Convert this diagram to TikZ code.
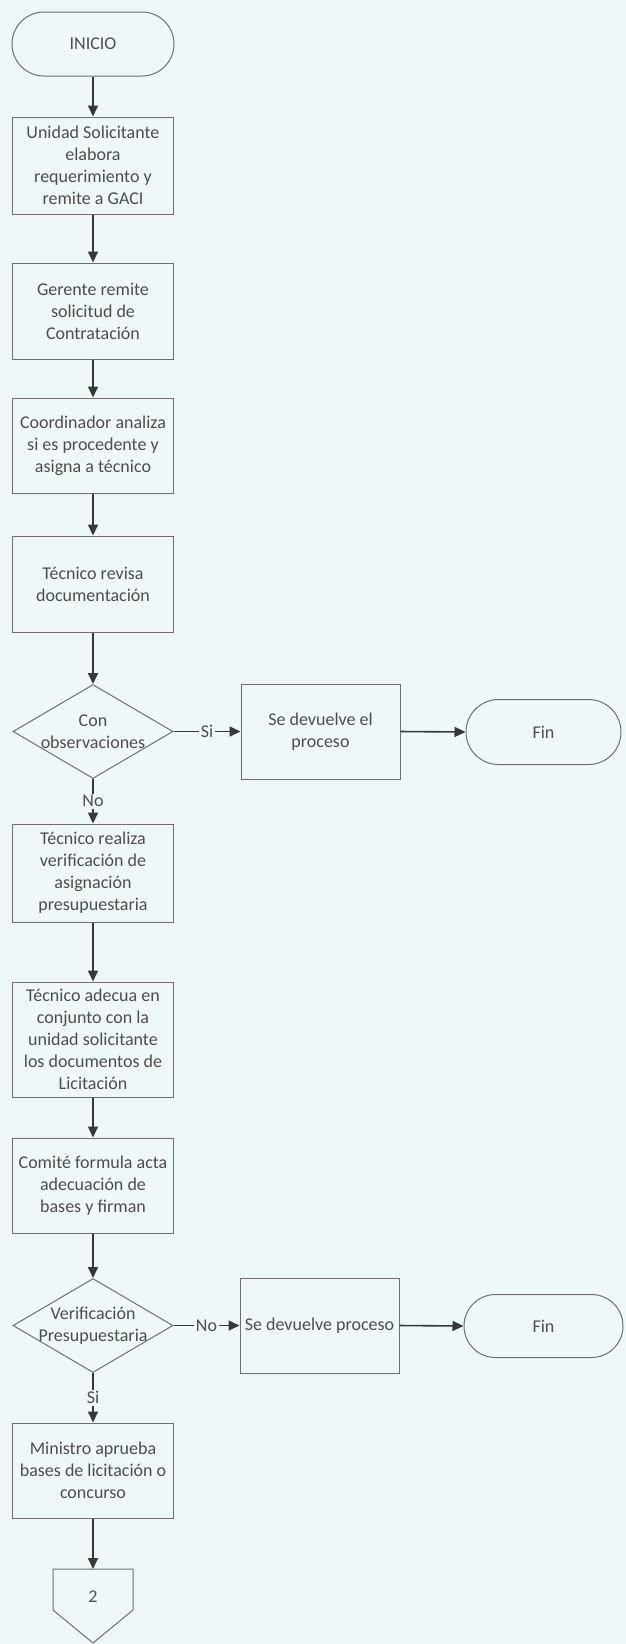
\documentclass[tikz,border=0pt]{standalone}
\usepackage{fontspec}
\setmainfont{Carlito}
\usetikzlibrary{arrows.meta,shapes.geometric,shapes.misc}
\definecolor{bgc}{HTML}{EEF8F8}
\definecolor{linec}{HTML}{6E6E6E}
\definecolor{arrc}{HTML}{383838}
\definecolor{txtc}{HTML}{4D4D4D}
\begin{document}
\begin{tikzpicture}[x=1pt,y=-1pt,
  every node/.style={font=\fontsize{18}{22}\selectfont, text=txtc},
  procbox/.style={draw=linec, line width=1pt, align=center, minimum width=161pt, inner sep=0pt},
  term/.style={draw=linec, line width=1pt, rounded rectangle, inner sep=0pt, align=center},
  decis/.style={draw=linec, line width=1pt, diamond, inner sep=0pt, minimum width=160pt, minimum height=94pt},
  flow/.style={draw=arrc, line width=1.6pt, -{Triangle[width=10pt,length=11pt]}},
  lbl/.style={fill=bgc, inner sep=1.5pt}]
\fill[bgc] (0,0) rectangle (626,1644);
\useasboundingbox (0,0) rectangle (626,1644);

% main column
\node[term, minimum width=162pt, minimum height=64pt] (ini) at (93,44) {INICIO};
\node[procbox, minimum height=97pt] (b1) at (93,165.5) {Unidad Solicitante\\elabora\\requerimiento y\\remite a GACI};
\node[procbox, minimum height=96pt] (b2) at (93,311) {Gerente remite\\solicitud de\\Contratación};
\node[procbox, minimum height=95pt] (b3) at (93,445.5) {Coordinador analiza\\si es procedente y\\asigna a técnico};
\node[procbox, minimum height=96pt] (b4) at (93,584) {Técnico revisa\\documentación};
\node[decis] (d1) at (93,731.5) {};
\node[align=center] (d1t) at (d1.center) {Con\\observaciones};
\node[procbox, minimum height=98pt] (b5) at (93,873) {Técnico realiza\\verificación de\\asignación\\presupuestaria};
\node[procbox, minimum height=115pt] (b6) at (93,1039.5) {Técnico adecua en\\conjunto con la\\unidad solicitante\\los documentos de\\Licitación};
\node[procbox, minimum height=95pt] (b7) at (93,1185.5) {Comité formula acta\\adecuación de\\bases y firman};
\node[decis] (d2) at (93,1325.5) {};
\node[align=center] (d2t) at (d2.center) {Verificación\\Presupuestaria};
\node[procbox, minimum height=95pt] (b8) at (93,1470.5) {Ministro aprueba\\bases de licitación o\\concurso};
\coordinate (c2) at (93,1569);
\draw[draw=linec, line width=1pt] (53,1569) -- (133,1569) -- (133,1610) -- (93,1643) -- (53,1610) -- cycle;
\node (c2t) at (93,1597) {2};

% right branches
\node[procbox, minimum width=159pt, minimum height=95pt] (r1) at (320.5,731.5) {Se devuelve el\\proceso};
\node[term, minimum width=155pt, minimum height=65pt] (f1) at (543.5,732) {Fin};
\node[procbox, minimum width=159pt, minimum height=95pt] (r2) at (319.5,1325.5) {Se devuelve proceso};
\node[term, minimum width=159pt, minimum height=63pt] (f2) at (543.5,1326) {Fin};

% connectors
\draw[flow] (ini.south) -- (b1.north);
\draw[flow] (b1.south) -- (b2.north);
\draw[flow] (b2.south) -- (b3.north);
\draw[flow] (b3.south) -- (b4.north);
\draw[flow] (b4.south) -- (d1.north);
\draw[flow] (d1.east) -- node[lbl]{Si} (r1.west);
\draw[flow] (r1.east) -- (f1.west);
\draw[flow] (d1.south) -- node[lbl]{No} (b5.north);
\draw[flow] (b5.south) -- (b6.north);
\draw[flow] (b6.south) -- (b7.north);
\draw[flow] (b7.south) -- (d2.north);
\draw[flow] (d2.east) -- node[lbl]{No} (r2.west);
\draw[flow] (r2.east) -- (f2.west);
\draw[flow] (d2.south) -- node[lbl]{Si} (b8.north);
\draw[flow] (b8.south) -- (c2);
\end{tikzpicture}
\end{document}
